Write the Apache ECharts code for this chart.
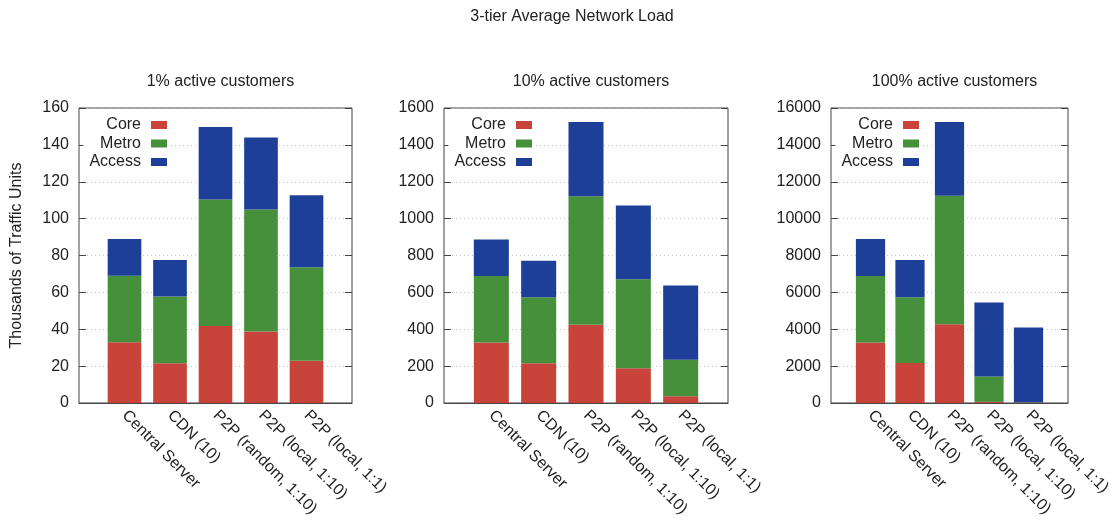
<!DOCTYPE html>
<html>
<head>
<meta charset="utf-8">
<title>3-tier Average Network Load</title>
<script src="https://cdn.jsdelivr.net/npm/echarts@6/dist/echarts.min.js"></script>
<style>
  html, body { margin: 0; padding: 0; background: #fff; }
  #chart { width: 1118px; height: 526px; }
</style>
</head>
<body>
<div id="chart"></div>
<script>
// Distribution schemes compared in every panel
const categories = ['Central Server', 'CDN (10)', 'P2P (random, 1:10)', 'P2P (local, 1:10)', 'P2P (local, 1:1)'];
const tiers = ['Core', 'Metro', 'Access'];
const panelTitles = ['1% active customers', '10% active customers', '100% active customers'];
const yMax = [160, 1600, 16000];
const yStep = [20, 200, 2000];

// Load per network tier (thousands of traffic units), stacked segments
const core1 = [33, 21.6, 41.8, 38.8, 22.9];
const metro1 = [36, 36.1, 68.6, 66.2, 50.7];
const access1 = [20, 19.9, 39.3, 39, 39.1];

const core10 = [328, 216, 424, 189, 36];
const metro10 = [361, 358, 698, 482, 198];
const access10 = [198, 198, 402, 400, 403];

const core100 = [3283, 2164, 4275, 60, 20];
const metro100 = [3607, 3572, 6962, 1383, 20];
const access100 = [2003, 2020, 4003, 4004, 4054];

const panelData = [
  [core1, metro1, access1],
  [core10, metro10, access10],
  [core100, metro100, access100]
];

const tierColors = ['#c8433a', '#46903c', '#1e3f98'];
const FONT = 'Liberation Sans, Arial, sans-serif';
const TEXT = '#222';

// Plot frames: x range spans one empty slot on each side of the five bars
const frames = [
  { left: 79, width: 273 },
  { left: 444, width: 284 },
  { left: 831, width: 237 }
];
const plotTop = 108;
const plotHeight = 295;

const axisCats = [''].concat(categories, ['']);
const pad = arr => [null].concat(arr, [null]);

const grids = [], xAxes = [], yAxes = [], series = [], legends = [];
const titles = [{
  text: '3-tier Average Network Load',
  left: 567, top: 4, textAlign: 'center',
  textStyle: { fontFamily: FONT, fontSize: 16, fontWeight: 'normal', color: TEXT }
}];

frames.forEach((f, p) => {
  grids.push({
    left: f.left, top: plotTop, width: f.width, height: plotHeight,
    show: true, borderColor: '#444', borderWidth: 1, backgroundColor: 'transparent'
  });
  titles.push({
    text: panelTitles[p],
    left: f.left + f.width / 2, top: 69, textAlign: 'center',
    textStyle: { fontFamily: FONT, fontSize: 16, fontWeight: 'normal', color: TEXT }
  });
  xAxes.push({
    gridIndex: p, type: 'category', data: axisCats, boundaryGap: false,
    axisLine: { show: true, lineStyle: { color: '#444', width: 1 } },
    axisTick: { show: false },
    splitLine: { show: false },
    axisLabel: {
      interval: 0, rotate: -45, margin: 10,
      fontFamily: FONT, fontSize: 16, color: TEXT
    }
  });
  const yLeft = {
    gridIndex: p, type: 'value', min: 0, max: yMax[p], interval: yStep[p], position: 'left',
    axisLine: { show: false },
    axisTick: { show: true, inside: true, length: 7, lineStyle: { color: '#444' } },
    axisLabel: { margin: 10, fontFamily: FONT, fontSize: 16, color: TEXT, formatter: v => String(v) },
    splitLine: { show: true, lineStyle: { type: [1, 3], color: '#c4c4c4', width: 1 } }
  };
  if (p === 0) {
    Object.assign(yLeft, {
      name: 'Thousands of Traffic Units', nameLocation: 'middle', nameGap: 54,
      nameTextStyle: { fontFamily: FONT, fontSize: 16, color: TEXT }
    });
  }
  yAxes.push(yLeft);
  yAxes.push({
    gridIndex: p, type: 'value', min: 0, max: yMax[p], interval: yStep[p], position: 'right',
    axisLine: { show: false },
    axisTick: { show: true, inside: true, length: 7, lineStyle: { color: '#444' } },
    axisLabel: { show: false },
    splitLine: { show: false }
  });
  tiers.forEach((t, k) => {
    series.push({
      type: 'bar', name: t, stack: 'panel' + p,
      xAxisIndex: p, yAxisIndex: 2 * p,
      barWidth: '74%',
      data: pad(panelData[p][k]),
      itemStyle: { color: tierColors[k] },
      emphasis: { disabled: true }
    });
  });
  legends.push({
    data: tiers, orient: 'vertical', align: 'right',
    right: 1118 - (f.left + 88) - 4, top: 113,
    padding: [4, 4, 4, 6], itemGap: 2.5, itemWidth: 16, itemHeight: 8,
    backgroundColor: '#fff', selectedMode: false,
    icon: 'rect',
    textStyle: { fontFamily: FONT, fontSize: 16, color: TEXT, lineHeight: 16, padding: [0, 5, 0, 0] }
  });
});

const chart = echarts.init(document.getElementById('chart'), null, { renderer: 'canvas' });
chart.setOption({
  animation: false,
  backgroundColor: '#fff',
  title: titles,
  legend: legends,
  grid: grids,
  xAxis: xAxes,
  yAxis: yAxes,
  series: series
});
</script>
</body>
</html>
